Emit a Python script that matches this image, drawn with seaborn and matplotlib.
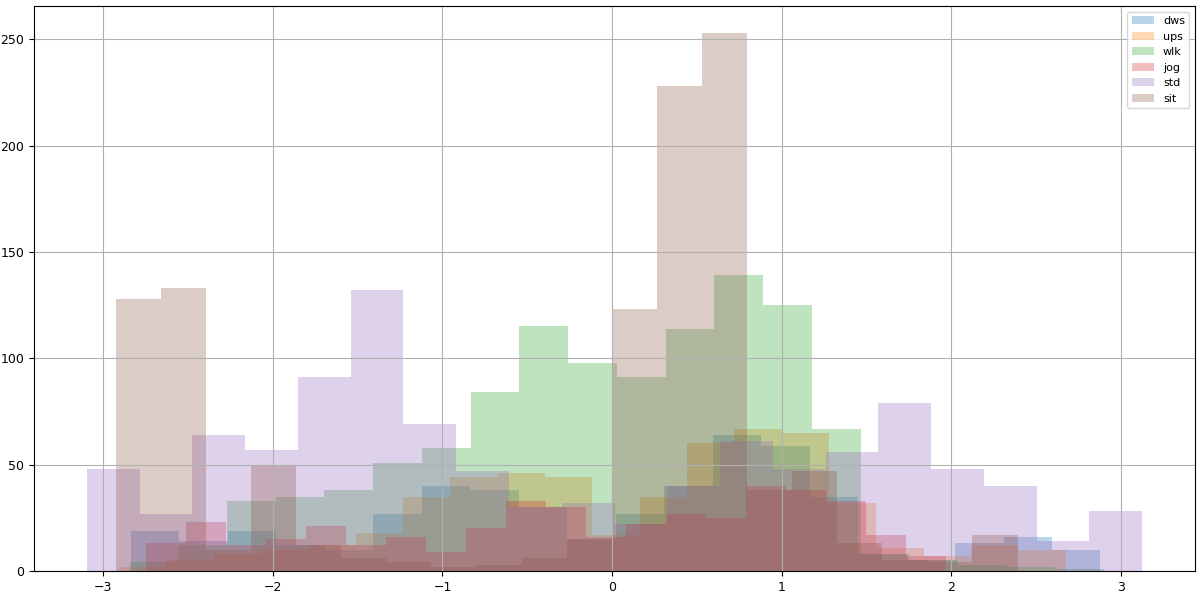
import numpy as np
import pandas as pd
import matplotlib
matplotlib.use("Agg")
import matplotlib.pyplot as plt
import seaborn as sns

# ---- data ----
categories = ["dws", "ups", "wlk", "jog", "std", "sit"]

# data range (min, max) of each series; 20 equal bins between them
dws_range = (-2.837, 2.878)
ups_range = (-2.907, 2.672)
wlk_range = (-2.844, 2.900)
jog_range = (-2.748, 1.965)
std_range = (-3.096, 3.124)
sit_range = (-2.925, 2.389)

dws_counts = [19, 14, 19, 12, 10, 27, 40, 38, 30, 15, 27, 40, 64, 59, 35, 8, 5, 13, 16, 10]
ups_counts = [2, 5, 8, 10, 12, 18, 35, 44, 46, 44, 17, 35, 60, 67, 65, 32, 11, 7, 12, 10]
wlk_counts = [4, 12, 33, 35, 38, 51, 58, 84, 115, 98, 91, 114, 139, 125, 67, 8, 5, 3, 2, 1]
jog_counts = [13, 23, 12, 15, 21, 12, 16, 9, 20, 33, 30, 16, 22, 27, 25, 40, 38, 33, 17, 7]
std_counts = [48, 27, 64, 57, 91, 132, 69, 47, 30, 32, 22, 40, 61, 48, 56, 79, 48, 40, 14, 28]
sit_counts = [128, 133, 10, 50, 12, 6, 4, 2, 3, 6, 15, 123, 228, 253, 38, 47, 13, 5, 4, 17]

n_bins = 20

ranges = [dws_range, ups_range, wlk_range, jog_range, std_range, sit_range]
counts = [dws_counts, ups_counts, wlk_counts, jog_counts, std_counts, sit_counts]
colors = sns.color_palette("tab10", 6)

fig = plt.figure(figsize=(12, 5.96), dpi=100)
ax = fig.add_axes([34 / 1200, 1 - 571 / 596, (1195 - 34) / 1200, (571 - 6) / 596])

for name, (lo, hi), c, col in zip(categories, ranges, counts, colors):
    edges = np.linspace(lo, hi, n_bins + 1)
    df = pd.DataFrame({"x": (edges[:-1] + edges[1:]) / 2, "w": c})
    sns.histplot(data=df, x="x", weights="w", bins=n_bins, binrange=(lo, hi),
                 color=col, alpha=0.3, linewidth=0, label=name, ax=ax)

ax.set_ylabel("")
ax.set_xlabel("")
ax.set_yticks([0, 50, 100, 150, 200, 250])
ax.set_xticks([-3, -2, -1, 0, 1, 2, 3])
ax.tick_params(labelsize=9)
ax.grid(True, color="#b0b0b0", linewidth=0.8)
ax.legend(loc="upper right", fontsize=8)

fig.savefig("out.png", dpi=100)
